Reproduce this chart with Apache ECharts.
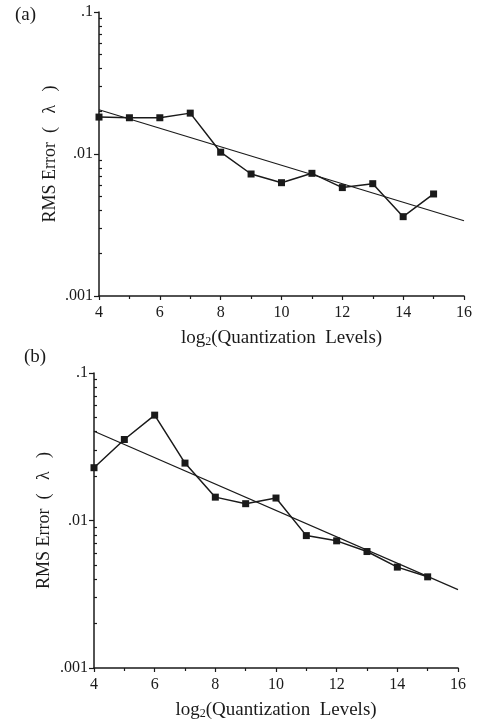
<!DOCTYPE html>
<html>
<head>
<meta charset="utf-8">
<script src="https://cdn.jsdelivr.net/npm/echarts@6/dist/echarts.min.js"></script>
<style>
  html, body { margin: 0; padding: 0; background: #fff; }
  #main { width: 478px; height: 722px; }
</style>
</head>
<body>
<div id="main"></div>
<script>
// x: log2(quantization levels)
var levels = [4, 5, 6, 7, 8, 9, 10, 11, 12, 13, 14, 15];
// (a) measured RMS error
var errA = [0.0182, 0.018, 0.018, 0.0194, 0.0103, 0.00723, 0.00628, 0.00731, 0.0058, 0.00618, 0.00362, 0.00523];
// (b) measured RMS error
var errB = [0.0228, 0.0354, 0.0518, 0.0245, 0.0144, 0.013, 0.0142, 0.0079, 0.00728, 0.00616, 0.00483, 0.00415];
// fitted straight lines (end points)
var fitX = [4, 16];
var fitA = [0.0205, 0.00339];
var fitB = [0.0403, 0.0034];
// tick labels
var xTicks = [4, 6, 8, 10, 12, 14, 16];
var yMajor = [0.001, 0.01, 0.1];
var yMinor = [0.002, 0.003, 0.004, 0.005, 0.006, 0.007, 0.008, 0.009,
              0.02, 0.03, 0.04, 0.05, 0.06, 0.07, 0.08, 0.09];
var yLabels = { 0.001: '.001', 0.01: '.01', 0.1: '.1' };

var font = '"Liberation Serif", "DejaVu Serif", serif';
var ink = '#1a1a1a';

function pairs(xs, ys) {
  var out = [];
  for (var i = 0; i < xs.length; i++) out.push([xs[i], ys[i]]);
  return out;
}

function xAxisFor(idx, gap) {
  return {
    gridIndex: idx,
    type: 'value',
    min: 4, max: 16, interval: 2,
    name: 'log{s|2}(Quantization  Levels)',
    nameLocation: 'middle',
    nameGap: gap,
    nameTextStyle: {
      fontFamily: font, fontSize: 19, color: ink,
      rich: { s: { fontFamily: font, fontSize: 12, color: ink, padding: [8, 0, 0, 0] } }
    },
    axisLine: { lineStyle: { color: ink, width: 1.5 } },
    axisTick: { length: 4, lineStyle: { color: ink, width: 1.2 } },
    minorTick: { show: true, splitNumber: 2, length: 3, lineStyle: { color: ink, width: 1.2 } },
    splitLine: { show: false },
    axisLabel: { fontFamily: font, fontSize: 16, color: ink, margin: 9,
      customValues: xTicks }
  };
}

function yAxisMajor(idx, gap) {
  return {
    gridIndex: idx,
    type: 'log', logBase: 10,
    position: 'left',
    min: 0.001, max: 0.1,
    name: 'RMS Error  (   λ   )',
    nameLocation: 'middle',
    nameRotate: 90,
    nameGap: gap,
    nameMoveOverlap: false,
    nameTextStyle: { fontFamily: font, fontSize: 18, color: ink },
    axisLine: { lineStyle: { color: ink, width: 1.5 } },
    axisTick: { show: true, length: 5, customValues: yMajor, lineStyle: { color: ink, width: 1.2 } },
    splitLine: { show: false },
    axisLabel: {
      fontFamily: font, fontSize: 16, color: ink, margin: 6,
      customValues: yMajor,
      formatter: function (v) { return yLabels[v] || ''; }
    }
  };
}

function yAxisMinor(idx) {
  return {
    gridIndex: idx,
    type: 'log', logBase: 10,
    position: 'left',
    min: 0.001, max: 0.1,
    axisLine: { show: false },
    axisTick: { show: true, inside: true, length: 3, customValues: yMinor, lineStyle: { color: ink, width: 1.2 } },
    splitLine: { show: false },
    axisLabel: { show: false }
  };
}

function dataSeries(xi, yi, values) {
  return {
    type: 'line',
    xAxisIndex: xi, yAxisIndex: yi,
    data: pairs(levels, values),
    symbol: 'rect', symbolSize: 7,
    itemStyle: { color: ink },
    lineStyle: { color: ink, width: 1.5 },
    z: 3
  };
}

function fitSeries(xi, yi, values) {
  return {
    type: 'line',
    xAxisIndex: xi, yAxisIndex: yi,
    data: pairs(fitX, values),
    symbol: 'none',
    lineStyle: { color: ink, width: 1.2 },
    z: 2
  };
}

var chart = echarts.init(document.getElementById('main'), null, { renderer: 'canvas' });
chart.setOption({
  animation: false,
  backgroundColor: '#fff',
  title: [
    { text: '(a)', left: 10, top: 1, textStyle: { fontFamily: font, fontSize: 19, fontWeight: 'normal', color: ink } },
    { text: '(b)', left: 19, top: 343, textStyle: { fontFamily: font, fontSize: 19, fontWeight: 'normal', color: ink } }
  ],
  grid: [
    { left: 99, right: 14, top: 12, height: 284 },
    { left: 94, right: 20, top: 373, height: 295 }
  ],
  xAxis: [xAxisFor(0, 32), xAxisFor(1, 32)],
  yAxis: [
    yAxisMajor(0, 40), yAxisMinor(0),
    yAxisMajor(1, 41), yAxisMinor(1)
  ],
  series: [
    fitSeries(0, 0, fitA),
    dataSeries(0, 0, errA),
    fitSeries(1, 2, fitB),
    dataSeries(1, 2, errB)
  ]
});
</script>
</body>
</html>
